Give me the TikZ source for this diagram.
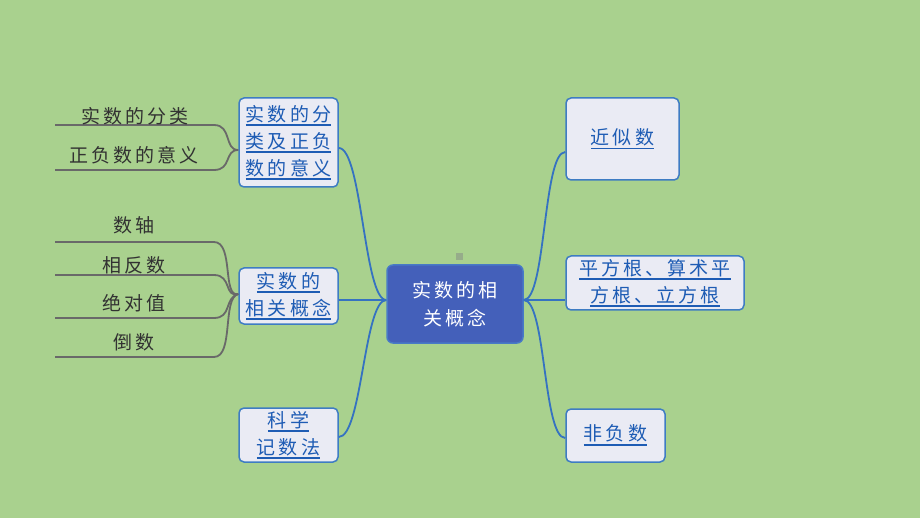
\documentclass[tikz,border=0pt]{standalone}
\usepackage{fontspec}
\newfontfamily\cjk{Noto Sans CJK SC}[LetterSpace=16]
\definecolor{bgc}{RGB}{169,209,142}
\definecolor{centerfill}{RGB}{68,96,186}
\definecolor{centerborder}{RGB}{72,122,198}
\definecolor{topicfill}{RGB}{234,235,244}
\definecolor{topicborder}{RGB}{62,124,195}
\definecolor{linkblue}{RGB}{30,92,180}
\definecolor{connblue}{RGB}{53,114,193}
\definecolor{graylines}{RGB}{105,105,105}
\definecolor{leafgray}{RGB}{50,50,50}
\definecolor{sqc}{RGB}{150,172,138}
\newcommand\ulx[1]{\setbox0\hbox{#1}\rlap{\rule[-5pt]{\wd0}{1.6pt}}\box0}
\tikzset{
  topic/.style={draw=topicborder, line width=1.5pt, fill=topicfill, rounded corners=5pt,
    align=center, text=linkblue, font=\cjk\fontsize{19}{27}\selectfont, inner sep=0pt},
  centertopic/.style={draw=centerborder, line width=1.5pt, fill=centerfill, rounded corners=6pt,
    align=center, text=white, font=\cjk\fontsize{19}{28}\selectfont, inner sep=0pt},
  leaf/.style={text=leafgray, font=\cjk\fontsize{19}{24}\selectfont, inner sep=0pt},
  conn/.style={draw=connblue, line width=1.8pt},
  leafline/.style={draw=graylines, line width=1.8pt},
}
\begin{document}
\begin{tikzpicture}[x=1pt,y=-1pt]
\fill[bgc] (0,0) rectangle (920,518);
\useasboundingbox (0,0) rectangle (920,518);
\fill[sqc] (456,253) rectangle (463,260);

% center
\node[centertopic, minimum width=136pt, minimum height=78pt] (c) at (455,304) {实数的相\\关概念};

% left topics
\node[topic, minimum width=99pt, minimum height=89pt] (l1) at (288.5,142.5) {\ulx{实数的分}\\\ulx{类及正负}\\\ulx{数的意义}};
\node[topic, minimum width=99pt, minimum height=56pt] (l2) at (288.5,296) {\ulx{实数的}\\\ulx{相关概念}};
\node[topic, minimum width=99pt, minimum height=54pt] (l3) at (288.5,435) {\ulx{科学}\\\ulx{记数法}};

% right topics
\node[topic, minimum width=113pt, minimum height=82pt] (r1) at (622.5,139) {\ulx{近似数}};
\node[topic, minimum width=178pt, minimum height=54pt] (r2) at (655,283) {\ulx{平方根、算术平}\\\ulx{方根、立方根}};
\node[topic, minimum width=99pt, minimum height=53pt] (r3) at (615.5,435.5) {\ulx{非负数}};

% attachment points
\coordinate (cl) at ([yshift=4pt]c.west);
\coordinate (cr) at ([yshift=4pt]c.east);
\coordinate (l1e) at ([yshift=-5.5pt]l1.east);
\coordinate (l2e) at ([yshift=-4pt]l2.east);
\coordinate (l3e) at ([yshift=-2pt]l3.east);
\coordinate (r1w) at ([yshift=-13pt]r1.west);
\coordinate (r2w) at ([yshift=-17pt]r2.west);
\coordinate (r3w) at ([yshift=-2.5pt]r3.west);

% connectors center -> topics
\draw[conn] (cl) .. controls (364,300) and (362,148) .. (l1e);
\draw[conn] (cl) -- (l2e);
\draw[conn] (cl) .. controls (364,300) and (362,437) .. (l3e);
\draw[conn] (cr) .. controls (546,300) and (543,152) .. (r1w);
\draw[conn] (cr) -- (r2w);
\draw[conn] (cr) .. controls (546,300) and (543,438) .. (r3w);

% leaves of l1
\coordinate (j1) at ([yshift=-7.5pt]l1.west);
\coordinate (a1) at (55,125);
\coordinate (a2) at (55,170);
\draw[leafline] (a1) -- (214,125) .. controls (232,125) and (224,150) .. (j1);
\draw[leafline] (a2) -- (214,170) .. controls (232,170) and (224,150) .. (j1);
\node[leaf] (t1) at (135,116) {实数的分类};
\node[leaf] (t2) at (134,155) {正负数的意义};

% leaves of l2
\coordinate (j2) at ([yshift=2pt]l2.west);
\coordinate (b1) at (55,242);
\coordinate (b2) at (55,275);
\coordinate (b3) at (55,318);
\coordinate (b4) at (55,357);
\draw[leafline] (b1) -- (214,242) .. controls (234,242) and (222,298) .. (j2);
\draw[leafline] (b2) -- (214,275) .. controls (232,275) and (224,298) .. (j2);
\draw[leafline] (b3) -- (214,318) .. controls (232,318) and (224,298) .. (j2);
\draw[leafline] (b4) -- (214,357) .. controls (234,357) and (222,298) .. (j2);
\node[leaf] (s1) at (134,225) {数轴};
\node[leaf] (s2) at (134,265) {相反数};
\node[leaf] (s3) at (134,303) {绝对值};
\node[leaf] (s4) at (134,342) {倒数};
\end{tikzpicture}
\end{document}
